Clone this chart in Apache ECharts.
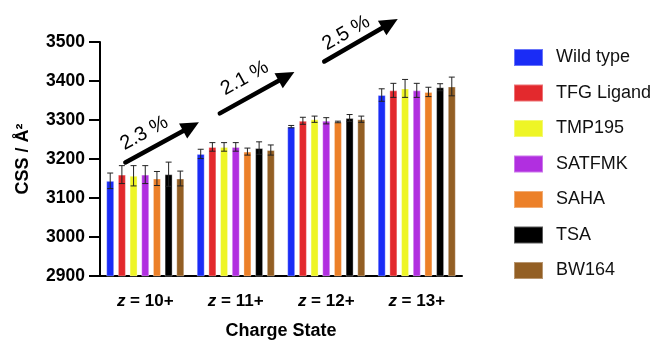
<!DOCTYPE html>
<html>
<head>
<meta charset="utf-8">
<script src="https://cdn.jsdelivr.net/npm/echarts@6/dist/echarts.min.js"></script>
<style>
html,body{margin:0;padding:0;background:#fff;}
#c{width:658px;height:345px;}
</style>
</head>
<body>
<div id="c"></div>
<script>
// ---- data ----
const categories = ['10+', '11+', '12+', '13+'];
const seriesNames = ['Wild type', 'TFG Ligand', 'TMP195', 'SATFMK', 'SAHA', 'TSA', 'BW164'];
const wildType   = [3144, 3213, 3283, 3364];
const tfgLigand  = [3160, 3231, 3298, 3376];
const tmp195     = [3157, 3231, 3302, 3381];
const satfmk     = [3160, 3231, 3298, 3376];
const saha       = [3150, 3219, 3295, 3372];
const tsa        = [3161, 3228, 3305, 3384];
const bw164      = [3150, 3223, 3302, 3386];
const wildTypeErr  = [20, 12, 3, 16];
const tfgLigandErr = [23, 11, 9, 18];
const tmp195Err    = [26, 11, 8, 23];
const satfmkErr    = [23, 11, 8, 18];
const sahaErr      = [18, 9, 2, 12];
const tsaErr       = [31, 16, 9, 9];
const bw164Err     = [19, 13, 8, 24];
const yTicks = [2900, 3000, 3100, 3200, 3300, 3400, 3500];
const increaseLabels = ['2.3 %', '2.1 %', '2.5 %'];

// ---- style ----
const values = [wildType, tfgLigand, tmp195, satfmk, saha, tsa, bw164];
const errs = [wildTypeErr, tfgLigandErr, tmp195Err, satfmkErr, sahaErr, tsaErr, bw164Err];
const colors = ['#1a2cf6', '#e3292d', '#eef526', '#b12fe0', '#ec8028', '#000000', '#935f24'];
const FONT = '"Liberation Sans", Arial, Helvetica, sans-serif';
const BAR_W = 8, BAR_GAP = 3.68;

const chart = echarts.init(document.getElementById('c'), null, {renderer: 'canvas'});

const series = [];
seriesNames.forEach((name, i) => {
  series.push({
    name: name,
    type: 'bar',
    data: values[i],
    barWidth: BAR_W,
    barGap: (BAR_GAP / BAR_W * 100) + '%',
    itemStyle: {color: colors[i], borderColor: 'rgba(255,255,255,0.35)', borderWidth: 1},
    z: 2
  });
});
seriesNames.forEach((name, i) => {
  series.push({
    type: 'custom',
    name: name + ' err',
    data: values[i].map((v, k) => [k, v - errs[i][k], v + errs[i][k]]),
    z: 5,
    silent: true,
    renderItem: function (params, api) {
      const c = api.value(0);
      const lo = api.coord([c, api.value(1)]);
      const hi = api.coord([c, api.value(2)]);
      const x = lo[0] + (i - 3) * (BAR_W + BAR_GAP);
      const cap = 3;
      const st = {stroke: '#222', lineWidth: 1};
      return {
        type: 'group',
        children: [
          {type: 'line', shape: {x1: x, y1: lo[1], x2: x, y2: hi[1]}, style: st},
          {type: 'line', shape: {x1: x - cap, y1: lo[1], x2: x + cap, y2: lo[1]}, style: st},
          {type: 'line', shape: {x1: x - cap, y1: hi[1], x2: x + cap, y2: hi[1]}, style: st}
        ]
      };
    }
  });
});

chart.setOption({
  backgroundColor: '#fff',
  animation: false,
  textStyle: {fontFamily: FONT},
  grid: {left: 100, right: 196, top: 42, bottom: 65, containLabel: false},
  legend: {
    data: seriesNames,
    orient: 'vertical',
    left: 513,
    top: 48,
    padding: 0,
    itemWidth: 29,
    itemHeight: 17,
    itemGap: 16.5,
    icon: 'rect',
    textStyle: {fontSize: 18, color: '#111', fontFamily: FONT, padding: [0, 0, 0, 8]}
  },
  xAxis: {
    type: 'category',
    data: categories,
    axisLine: {lineStyle: {color: '#000', width: 2}},
    axisTick: {alignWithLabel: true, length: 8, lineStyle: {color: '#000', width: 2}},
    axisLabel: {
      interval: 0,
      margin: 17,
      color: '#000',
      fontSize: 17,
      fontWeight: 'bold',
      fontFamily: FONT,
      formatter: v => '{i|z} = ' + v,
      rich: {i: {fontStyle: 'italic', fontWeight: 'bold', fontSize: 17, fontFamily: FONT, color: '#000'}}
    },
    name: 'Charge State',
    nameLocation: 'middle',
    nameGap: 46,
    nameTextStyle: {fontSize: 18, fontWeight: 'bold', color: '#000', fontFamily: FONT}
  },
  yAxis: {
    type: 'value',
    min: yTicks[0],
    max: yTicks[yTicks.length - 1],
    interval: yTicks[1] - yTicks[0],
    splitLine: {show: false},
    axisLine: {show: true, lineStyle: {color: '#000', width: 2}},
    axisTick: {show: true, length: 11, lineStyle: {color: '#000', width: 2}},
    axisLabel: {margin: 15, color: '#000', fontSize: 17.5, fontWeight: 'bold', fontFamily: FONT, formatter: v => String(v)},
    name: 'CSS / Å²',
    nameLocation: 'middle',
    nameRotate: 90,
    nameGap: 68,
    nameTextStyle: {fontSize: 18, fontWeight: 'bold', color: '#000', fontFamily: FONT}
  },
  series: series
});

// ---- annotation arrows (positions in data space: [category index, value]) ----
const arrowLayout = [
  {from: [-0.22, 3191], to: [0.593, 3294], text: [-0.011, 3266]},
  {from: [0.824, 3317], to: [1.648, 3423], text: [1.10, 3407]},
  {from: [1.978, 3450], to: [2.79, 3559], text: [2.22, 3523]}
];
function toPx(p) {
  const a = chart.convertToPixel({xAxisIndex: 0}, 0);
  const b = chart.convertToPixel({xAxisIndex: 0}, 1);
  const y = chart.convertToPixel({yAxisIndex: 0}, p[1]);
  return [a + p[0] * (b - a), y];
}
const graphics = [];
arrowLayout.forEach((a, k) => {
  const s = toPx(a.from), e = toPx(a.to), t = toPx(a.text);
  const dx = e[0] - s[0], dy = e[1] - s[1];
  const len = Math.sqrt(dx * dx + dy * dy);
  const ux = dx / len, uy = dy / len;
  const headL = 18, headW = 8.5;
  const bx = e[0] - ux * headL, by = e[1] - uy * headL;
  graphics.push({
    type: 'line',
    shape: {x1: s[0], y1: s[1], x2: bx + ux * 2, y2: by + uy * 2},
    style: {stroke: '#000', lineWidth: 4.5, lineCap: 'round'},
    z: 10
  });
  graphics.push({
    type: 'polygon',
    shape: {points: [[e[0], e[1]], [bx - uy * headW, by + ux * headW], [bx + uy * headW, by - ux * headW]]},
    style: {fill: '#000'},
    z: 10
  });
  const ang = Math.atan2(-dy, dx);
  graphics.push({
    type: 'text',
    x: t[0], y: t[1],
    rotation: ang,
    style: {text: increaseLabels[k], fontSize: 20, fontFamily: FONT, fill: '#000', align: 'center', verticalAlign: 'middle'},
    z: 10
  });
});
chart.setOption({graphic: graphics});
</script>
</body>
</html>
